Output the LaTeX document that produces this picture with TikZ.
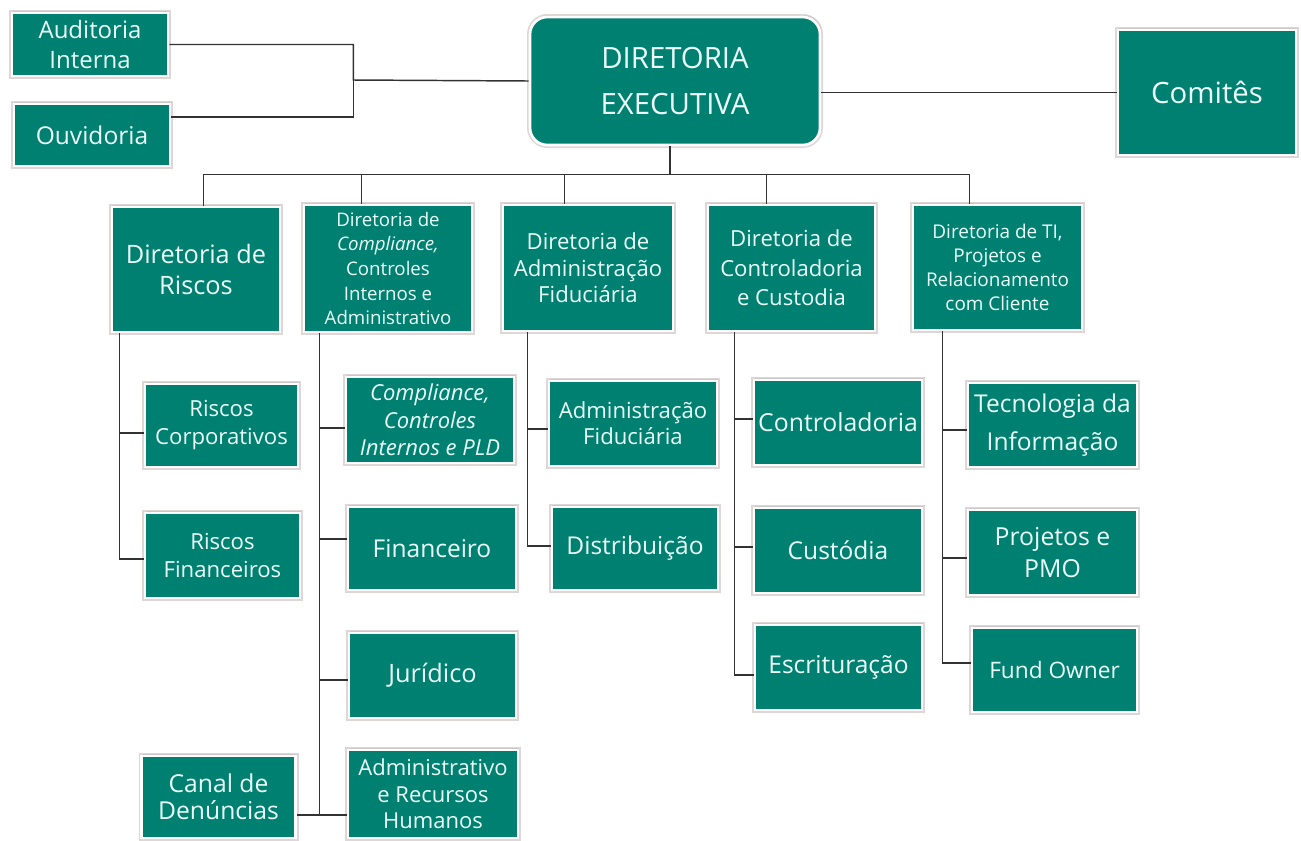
\documentclass[tikz,border=0pt]{standalone}
\usepackage{fontspec}
\setmainfont{Open Sans}
\usetikzlibrary{calc,shadows}

\definecolor{orgteal}{RGB}{0,128,112}
\definecolor{orgtext}{RGB}{236,255,250}
\definecolor{orgline}{RGB}{50,50,50}
\definecolor{orghalo}{RGB}{150,120,125}

\newcommand{\orgfont}[2]{\fontsize{#1}{#2}\selectfont}

\tikzset{
  orgbox/.style={rectangle, fill=orgteal, draw=white, line width=2pt, text=orgtext,
    align=center, inner sep=1pt,
    preaction={draw=orghalo, line width=4.5pt, opacity=0.3},
    drop shadow={opacity=0.2, shadow xshift=1pt, shadow yshift=1.5pt}},
  conn/.style={draw=orgline, line width=1.1pt},
}

\begin{document}
\begin{tikzpicture}[x=0.75pt,y=0.75pt,yscale=-1,xscale=1]
  \useasboundingbox (0,0) rectangle (1301,840);

  %Top level
  \node [orgbox, rounded corners=13pt, minimum width=217.5pt, minimum height=96pt, font=\orgfont{22}{35}] (exec) at (675,81) {DIRETORIA\\EXECUTIVA};
  \node [orgbox, minimum width=117pt, minimum height=47.25pt, font=\orgfont{18}{23}] (aud) at (90,44.5) {Auditoria\\Interna};
  \node [orgbox, minimum width=117pt, minimum height=46.5pt, font=\orgfont{18.4}{22}] (ouv) at (92,135) {Ouvidoria};
  \node [orgbox, minimum width=133.5pt, minimum height=93.75pt, font=\orgfont{22}{26}] (com) at (1207,92.5) {Comitês};

  %Diretorias
  \node [orgbox, minimum width=126pt, minimum height=93.75pt, font=\orgfont{19}{23}] (riscos) at (196,269.5) {Diretoria de\\Riscos};
  \node [orgbox, minimum width=126pt, minimum height=95.25pt, font=\orgfont{14}{18.5}] (compl) at (388,268.5) {Diretoria de\\\textit{Compliance,}\\Controles\\Internos e\\Administrativo};
  \node [orgbox, minimum width=127.5pt, minimum height=94.5pt, font=\orgfont{16.6}{20}] (admfid) at (588,268) {Diretoria de\\Administração\\Fiduciária};
  \node [orgbox, minimum width=125.25pt, minimum height=94.5pt, font=\orgfont{16.6}{22}] (contr) at (791.5,268) {Diretoria de\\Controladoria\\e Custodia};
  \node [orgbox, minimum width=126.75pt, minimum height=93.75pt, font=\orgfont{14.2}{18}] (ti) at (997.5,267.5) {Diretoria de TI,\\Projetos e\\Relacionamento\\com Cliente};

  %Areas - Riscos
  \node [orgbox, minimum width=114.75pt, minimum height=62.25pt, font=\orgfont{16.6}{21}] (rcorp) at (221.5,425.5) {Riscos\\Corporativos};
  \node [orgbox, minimum width=116.25pt, minimum height=63.75pt, font=\orgfont{16.6}{21}] (rfin) at (222.5,555.5) {Riscos\\Financeiros};
  %Areas - Compliance
  \node [orgbox, minimum width=126pt, minimum height=64.5pt, font=\orgfont{16.5}{20.5}\itshape] (pld) at (430,420) {Compliance,\\Controles\\Internos e PLD};
  \node [orgbox, minimum width=126pt, minimum height=62.25pt, font=\orgfont{18.4}{22}] (fin) at (432,548.5) {Financeiro};
  \node [orgbox, minimum width=125.25pt, minimum height=63.75pt, font=\orgfont{19}{22}] (jur) at (432.5,675.5) {Jurídico};
  \node [orgbox, minimum width=127.5pt, minimum height=66pt, font=\orgfont{16.5}{20}] (admrh) at (433,794) {Administrativo\\e Recursos\\Humanos};
  \node [orgbox, minimum width=115.5pt, minimum height=61.5pt, font=\orgfont{18.5}{20}] (canal) at (218.5,797) {Canal de\\Denúncias};
  %Areas - Administracao Fiduciaria
  \node [orgbox, minimum width=126pt, minimum height=63.75pt, font=\orgfont{16.6}{19.5}] (afid) at (633,423.5) {Administração\\Fiduciária};
  \node [orgbox, minimum width=124.5pt, minimum height=62.25pt, font=\orgfont{18.4}{22}] (dist) at (635,548.5) {Distribuição};
  %Areas - Controladoria
  \node [orgbox, minimum width=126pt, minimum height=63.75pt, font=\orgfont{18.6}{22}] (ctrl) at (838,422.5) {Controladoria};
  \node [orgbox, minimum width=126pt, minimum height=63.75pt, font=\orgfont{18.4}{22}] (cust) at (838,550.5) {Custódia};
  \node [orgbox, minimum width=125.25pt, minimum height=63.75pt, font=\orgfont{18.4}{22}] (escr) at (838.5,667.5) {Escrituração};
  %Areas - TI
  \node [orgbox, minimum width=126.75pt, minimum height=63pt, font=\orgfont{18.4}{28.5}] (tec) at (1052.5,425) {Tecnologia da\\Informação};
  \node [orgbox, minimum width=126.75pt, minimum height=63.75pt, font=\orgfont{18.6}{24}] (proj) at (1052.5,552.5) {Projetos e\\PMO};
  \node [orgbox, minimum width=123.75pt, minimum height=63pt, font=\orgfont{17}{22}] (fund) at (1054.5,670) {Fund Owner};

  %Connectors - top (yshift follows yscale=-1: positive is down)
  \coordinate (jl) at ($(aud.east)+(184,35.5)$);
  \draw [conn] (aud.east) -| (jl) -- (exec.west);
  \draw [conn] ([yshift=-13.5pt]ouv.east) -| (jl);
  \draw [conn] (com.west) -- (com.west -| exec.east);

  %Connectors - bar
  \coordinate (bar) at ($(exec.south)+(-5,28)$);
  \coordinate (dRiscos) at ($(riscos.north west)+(93,0)$);
  \coordinate (dCompl) at ($(compl.north west)+(59,0)$);
  \coordinate (dAdmfid) at ($(admfid.north west)+(63,0)$);
  \coordinate (dContr) at ($(contr.north west)+(60,0)$);
  \coordinate (dTi) at ($(ti.north west)+(58,0)$);
  \draw [conn] (exec.south -| bar) -- (bar);
  \draw [conn] (dRiscos |- bar) -- (dTi |- bar);
  \draw [conn] (dRiscos |- bar) -- (dRiscos);
  \draw [conn] (dCompl |- bar) -- (dCompl);
  \draw [conn] (dAdmfid |- bar) -- (dAdmfid);
  \draw [conn] (dContr |- bar) -- (dContr);
  \draw [conn] (dTi |- bar) -- (dTi);

  %Connectors - spines
  \coordinate (sRiscos) at ($(riscos.south west)+(9,0)$);
  \coordinate (sCompl) at ($(compl.south west)+(17,0)$);
  \coordinate (sAdmfid) at ($(admfid.south west)+(26,0)$);
  \coordinate (sContr) at ($(contr.south west)+(28,0)$);
  \coordinate (sTi) at ($(ti.south west)+(31,0)$);

  \draw [conn] (sRiscos) |- ([yshift=5.6pt]rcorp.west);
  \draw [conn] (sRiscos) |- ([yshift=2.6pt]rfin.west);

  \draw [conn] (sCompl) |- ([yshift=6pt]pld.west);
  \draw [conn] (sCompl) |- ([yshift=-7pt]fin.west);
  \draw [conn] (sCompl) |- ([yshift=3.4pt]jur.west);
  \draw [conn] (sCompl) |- ([yshift=15.75pt]admrh.west);
  \draw [conn] ([yshift=13.5pt]canal.east) -- ([yshift=13.5pt]canal.east -| sCompl);

  \draw [conn] (sAdmfid) |- ([yshift=4pt]afid.west);
  \draw [conn] (sAdmfid) |- ([yshift=-2pt]dist.west);

  \draw [conn] (sContr) |- ([yshift=-2.6pt]ctrl.west);
  \draw [conn] (sContr) |- ([yshift=-2.6pt]cust.west);
  \draw [conn] (sContr) |- ([yshift=5.6pt]escr.west);

  \draw [conn] (sTi) |- ([yshift=3.75pt]tec.west);
  \draw [conn] (sTi) |- ([yshift=4pt]proj.west);
  \draw [conn] (sTi) |- ([yshift=-5.25pt]fund.west);
\end{tikzpicture}
\end{document}
